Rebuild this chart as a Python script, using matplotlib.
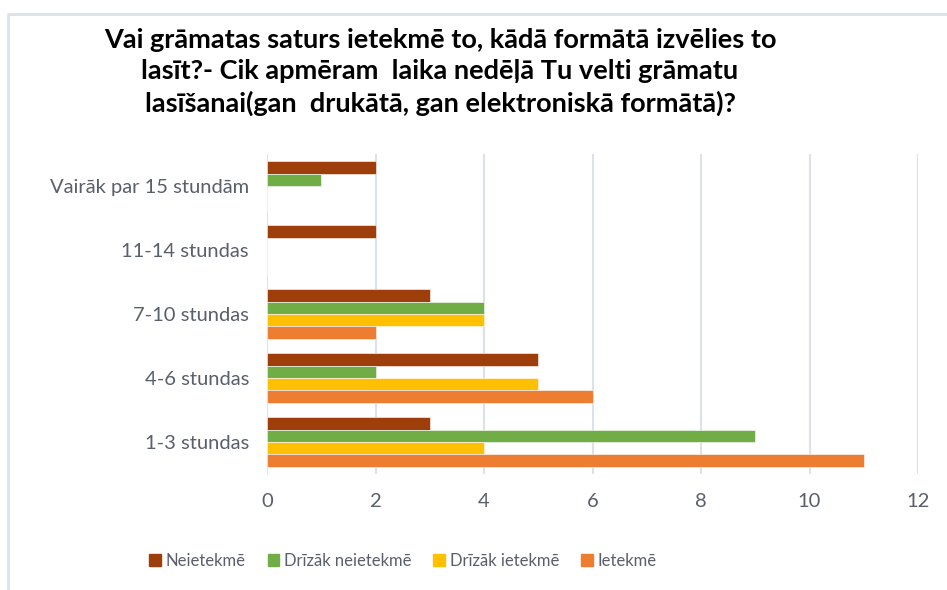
import matplotlib
matplotlib.use("Agg")
import matplotlib.pyplot as plt
from matplotlib.lines import Line2D
from matplotlib.patches import Patch
import numpy as np

categories = ["1-3 stundas", "4-6 stundas", "7-10 stundas", "11-14 stundas", "Vairāk par 15 stundām"]
series_names = ["Neietekmē", "Drīzāk neietekmē", "Drīzāk ietekmē", "Ietekmē"]
neietekme = [3, 5, 3, 2, 2]
drizak_neietekme = [9, 2, 4, 0, 1]
drizak_ietekme = [4, 5, 4, 0, 0]
ietekme = [11, 6, 2, 0, 0]
x_ticks = [0, 2, 4, 6, 8, 10, 12]
title = ("Vai grāmatas saturs ietekmē to, kādā formātā izvēlies to\n"
         "lasīt?- Cik apmēram  laika nedēļā Tu velti grāmatu\n"
         "lasīšanai(gan  drukātā, gan elektroniskā formātā)?")

colors = ["#9E3F0B", "#70AD47", "#FFC000", "#ED7D31"]
plt.rcParams['font.family'] = ['Lato', 'DejaVu Sans']

fig = plt.figure(figsize=(9.47, 5.9), dpi=100)
ax = fig.add_axes([267/947, 1-474/590, (918-267)/947, (474-154)/590])

data = [neietekme, drizak_neietekme, drizak_ietekme, ietekme]
h = 0.195
offsets = [1.5*h, 0.5*h, -0.5*h, -1.5*h]
y = np.arange(len(categories))
for vals, off, c, name in zip(data, offsets, colors, series_names):
    ax.barh(y + off, vals, height=h, color=c, edgecolor="white", linewidth=0.4, label=name, zorder=3)

ax.set_xlim(0, 12)
ax.set_ylim(-0.5, len(categories) - 0.5)
ax.set_xticks(x_ticks)
ax.set_yticks(y)
ax.set_yticklabels(categories)
ax.xaxis.grid(True, color="#DDE2EA", linewidth=1.5, zorder=0)
ax.yaxis.grid(False)
for s in ax.spines.values():
    s.set_visible(False)
ax.tick_params(axis="both", length=0, labelcolor="#595F6B", labelsize=14.5)
ax.tick_params(axis="x", pad=14)
ax.tick_params(axis="y", pad=13)

fig.text(440/947, 1-72/590, title, ha="center", va="center", fontsize=19.5,
         fontweight="bold", color="black", linespacing=1.38)

handles = [Patch(facecolor=c, edgecolor=c) for c in colors]
leg = fig.legend(handles, series_names, loc="center", bbox_to_anchor=(403/947, 1-561/590),
                 ncol=4, frameon=False, fontsize=12, handlelength=0.7, handleheight=0.7,
                 handletextpad=0.3, columnspacing=1.3)
for t in leg.get_texts():
    t.set_color("#595F6B")

# chart frame
fig.add_artist(Line2D([8/947, 8/947, 1.0], [0.0, 1-14/590, 1-14/590],
                      transform=fig.transFigure, color="#DDE2EA", linewidth=2))

fig.savefig("out.png", dpi=100, facecolor="white")
